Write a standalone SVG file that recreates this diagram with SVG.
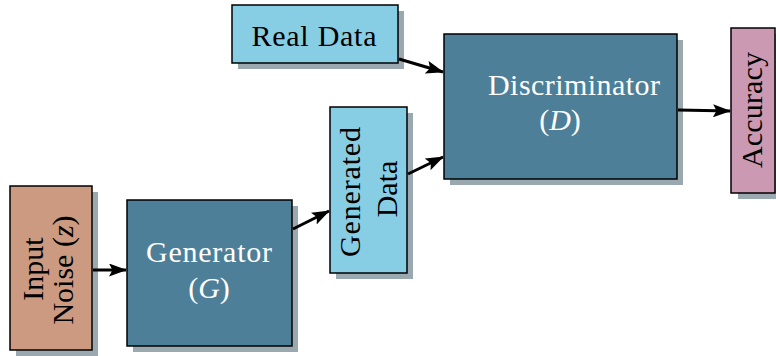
<svg xmlns="http://www.w3.org/2000/svg" width="776" height="356" viewBox="0 0 776 356">
<style>
.box{stroke:#000;stroke-width:1.5}
.sh{fill:#9aa8af}
.t{font-family:"Liberation Serif","Times New Roman",serif;font-size:30px;text-anchor:middle}
.w{fill:#fff}
.k{fill:#000}
.i{font-style:italic}
.c{stroke:#000;stroke-width:3;fill:none}
</style>
<defs>
<marker id="ah" viewBox="0 0 18 13" refX="17" refY="6.5" markerWidth="18" markerHeight="13" markerUnits="userSpaceOnUse" orient="auto">
<path d="M0,0 L18,6.5 L0,13 L3.5,6.5 z" fill="#000"/>
</marker>
</defs>
<rect width="776" height="356" fill="#fff"/>
<g id="input-noise">
<rect class="sh" x="16" y="192" width="82" height="164"/>
<rect class="box" x="10" y="186" width="82" height="164" fill="#cc9a80"/>
<text class="t k" transform="translate(43,269) rotate(-90)">Input</text>
<text class="t k" transform="translate(73,270) rotate(-90)">Noise (<tspan class="i">z</tspan>)</text>
</g>
<g id="generator">
<rect class="sh" x="133" y="206" width="165" height="146"/>
<rect class="box" x="127" y="200" width="165" height="146" fill="#4d7f99"/>
<text class="t w" x="209" y="262" textLength="126">Generator</text>
<text class="t w" x="209" y="298">(<tspan class="i">G</tspan>)</text>
</g>
<g id="real-data">
<rect class="sh" x="238" y="11" width="166" height="58"/>
<rect class="box" x="232" y="5" width="166" height="58" fill="#87cee4"/>
<text class="t k" x="314" y="46" textLength="125">Real Data</text>
</g>
<g id="generated-data">
<rect class="sh" x="336" y="113" width="77" height="166"/>
<rect class="box" x="330" y="107" width="77" height="166" fill="#87cee4"/>
<text class="t k" transform="translate(360,192) rotate(-90)" textLength="130">Generated</text>
<text class="t k" transform="translate(397,189) rotate(-90)">Data</text>
</g>
<g id="discriminator">
<rect class="sh" x="450" y="40" width="233" height="145"/>
<rect class="box" x="444" y="34" width="233" height="145" fill="#4d7f99"/>
<text class="t w" x="574" y="95" textLength="172">Discriminator</text>
<text class="t w" x="560" y="130">(<tspan class="i">D</tspan>)</text>
</g>
<g id="accuracy">
<rect class="sh" x="738" y="34" width="44" height="165"/>
<rect class="box" x="731" y="28" width="44" height="165" fill="#cc99b3"/>
<text class="t k" transform="translate(762,110) rotate(-90)" textLength="116">Accuracy</text>
</g>
<g id="connectors">
<line class="c" x1="93" y1="270" x2="126" y2="270" marker-end="url(#ah)"/>
<line class="c" x1="293" y1="229" x2="329" y2="211" marker-end="url(#ah)"/>
<line class="c" x1="408" y1="174" x2="443" y2="157" marker-end="url(#ah)"/>
<line class="c" x1="399" y1="59" x2="443" y2="72" marker-end="url(#ah)"/>
<line class="c" x1="678" y1="110" x2="730" y2="111" marker-end="url(#ah)"/>
</g>
</svg>
